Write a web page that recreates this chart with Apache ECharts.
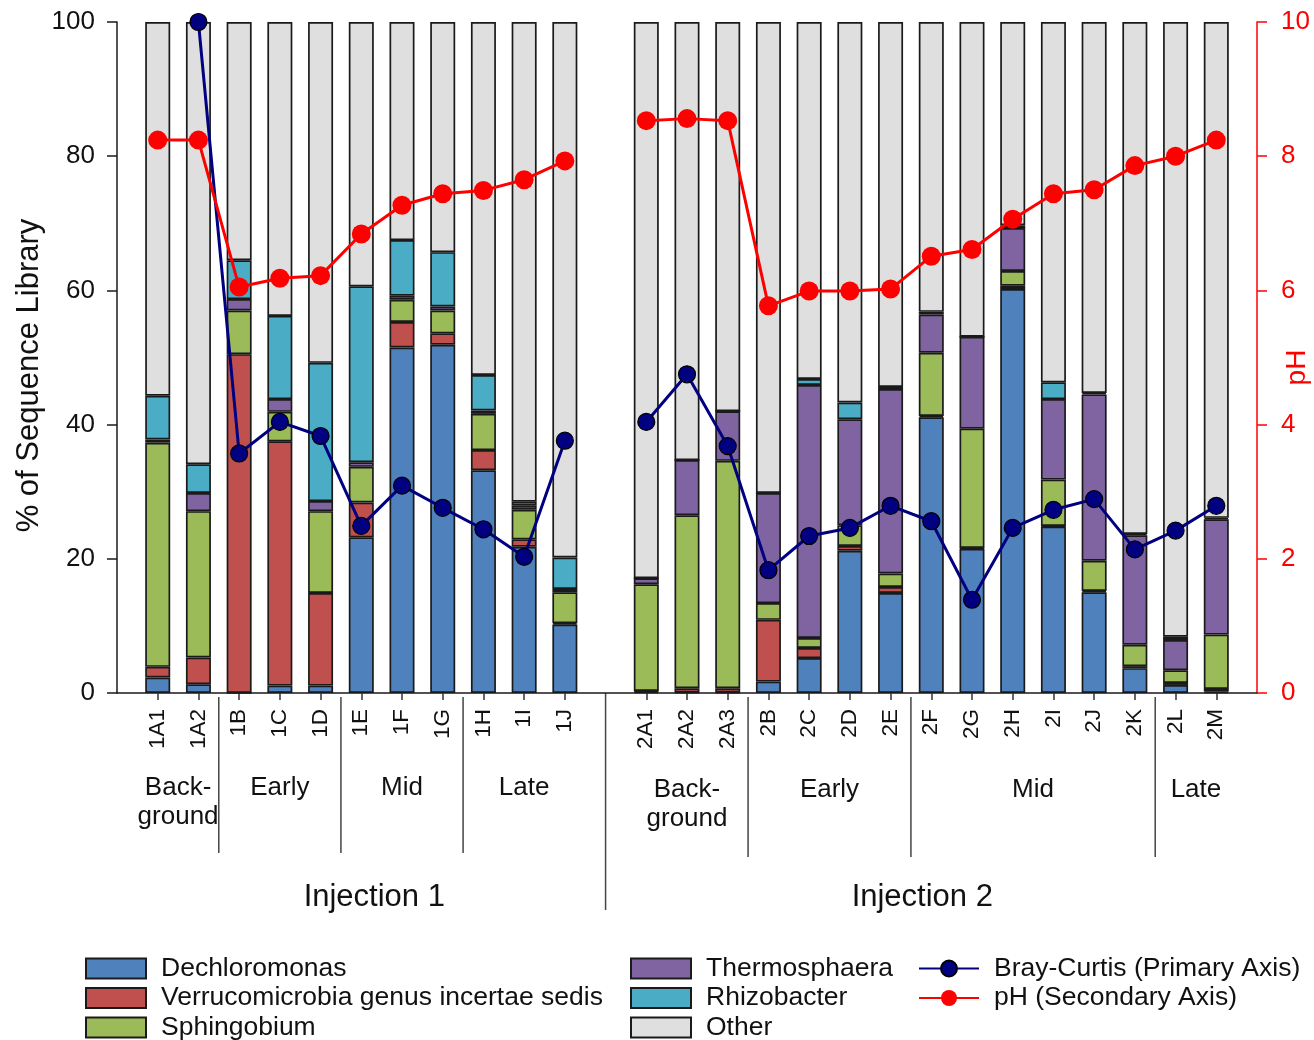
<!DOCTYPE html>
<html>
<head>
<meta charset="utf-8">
<title>Sequence library composition, Bray-Curtis and pH</title>
<script src="https://cdn.jsdelivr.net/npm/echarts@6/dist/echarts.min.js"></script>
<style>
  html, body { margin: 0; padding: 0; background: #ffffff; }
  #chart { width: 1314px; height: 1040px; }
</style>
</head>
<body>
<div id="chart"></div>
<script>
// ---- Samples (Injection 1, then Injection 2) ----
const samplesInj1 = ['1A1', '1A2', '1B', '1C', '1D', '1E', '1F', '1G', '1H', '1I', '1J'];
const samplesInj2 = ['2A1', '2A2', '2A3', '2B', '2C', '2D', '2E', '2F', '2G', '2H', '2I', '2J', '2K', '2L', '2M'];

// ---- % of sequence library per genus (order matches samplesInj1 + samplesInj2) ----
const dechloromonas  = [2.3, 1.3, 0.0, 1.1, 1.1, 23.2, 51.5, 51.9, 33.2, 21.8, 10.2,
                        0.2, 0.1, 0.1, 1.7, 5.2, 21.2, 14.9, 41.1, 21.5, 60.2, 24.8, 15.0, 3.7, 1.2, 0.2];
const verrucomicrobia = [1.6, 4.0, 50.5, 36.4, 13.8, 5.2, 3.8, 1.7, 3.0, 1.1, 0.2,
                        0.1, 0.6, 0.6, 9.2, 1.5, 0.7, 0.9, 0.2, 0.1, 0.5, 0.1, 0.2, 0.3, 0.3, 0.4];
const sphingobium    = [33.4, 21.8, 6.5, 4.4, 12.2, 5.3, 3.3, 3.4, 5.4, 4.4, 4.6,
                        15.9, 25.8, 33.9, 2.5, 1.5, 3.1, 2.0, 9.4, 17.8, 2.2, 6.9, 4.5, 3.2, 1.9, 8.1];
const thermosphaera  = [0.5, 2.7, 1.7, 1.9, 1.5, 0.7, 0.6, 0.6, 0.5, 0.6, 0.5,
                        0.9, 8.2, 7.4, 16.4, 37.7, 15.8, 27.5, 5.7, 13.7, 6.4, 12.0, 24.8, 16.3, 4.5, 17.2];
const rhizobacter    = [6.5, 4.3, 5.8, 12.4, 20.6, 26.2, 8.3, 8.1, 5.3, 0.6, 4.7,
                        0.0, 0.0, 0.0, 0.0, 0.9, 2.5, 0.3, 0.4, 0.0, 0.4, 2.5, 0.2, 0.2, 0.5, 0.2];
const other          = [55.7, 65.9, 35.5, 43.8, 50.8, 39.4, 32.5, 34.3, 52.6, 71.5, 79.8,
                        82.9, 65.3, 58.0, 70.2, 53.2, 56.7, 54.4, 43.2, 46.9, 30.3, 53.7, 55.3, 76.3, 91.6, 73.9];

// ---- Bray-Curtis dissimilarity (primary axis) and pH (secondary axis) ----
const brayCurtis = [null, 100, 35.7, 40.4, 38.3, 24.9, 30.9, 27.6, 24.4, 20.3, 37.6,
                    40.4, 47.5, 36.8, 18.3, 23.4, 24.6, 27.9, 25.6, 13.9, 24.6, 27.3, 28.9, 21.4, 24.2, 27.9];
const phValues   = [8.24, 8.24, 6.05, 6.18, 6.22, 6.84, 7.27, 7.44, 7.49, 7.65, 7.93,
                    8.53, 8.56, 8.53, 5.77, 5.99, 5.99, 6.02, 6.51, 6.61, 7.06, 7.44, 7.50, 7.86, 8.00, 8.24];

// ---- Axis ticks ----
const pctTicks = { min: 0, max: 100, step: 20 };
const phTicks  = { min: 0, max: 10, step: 2 };

// ---- Sampling phases (first and last sample of each) ----
const phasesInj1 = [
  { label: 'Back-\nground', first: '1A1', last: '1A2' },
  { label: 'Early', first: '1B', last: '1D' },
  { label: 'Mid',   first: '1E', last: '1G' },
  { label: 'Late',  first: '1H', last: '1J' }
];
const phasesInj2 = [
  { label: 'Back-\nground', first: '2A1', last: '2A3' },
  { label: 'Early', first: '2B', last: '2E' },
  { label: 'Mid',   first: '2F', last: '2K' },
  { label: 'Late',  first: '2L', last: '2M' }
];

// ---- Build the padded category axis: blank slot at each end and between injections ----
const axisCats = [' '].concat(samplesInj1, ['  '], samplesInj2, ['   ']);
const n1 = samplesInj1.length;
function pad(arr) {
  return [null].concat(arr.slice(0, n1), [null], arr.slice(n1), [null]);
}
function idxOf(name) { return axisCats.indexOf(name); }

const FONT = '"Liberation Sans", Arial, sans-serif';
const INK = '#111111';

const genera = [
  { name: 'Dechloromonas', data: dechloromonas, color: '#4F81BD' },
  { name: 'Verrucomicrobia genus incertae sedis', data: verrucomicrobia, color: '#C0504D' },
  { name: 'Sphingobium', data: sphingobium, color: '#9BBB59' },
  { name: 'Thermosphaera', data: thermosphaera, color: '#8064A2' },
  { name: 'Rhizobacter', data: rhizobacter, color: '#4BACC6' },
  { name: 'Other', data: other, color: '#DFDFDF' }
];

const barSeries = genera.map(g => ({
  name: g.name,
  type: 'bar',
  stack: 'library',
  barWidth: 25,
  data: pad(g.data),
  silent: true,
  itemStyle: { color: g.color, borderColor: '#1a1a1a', borderWidth: 1.7 },
  emphasis: { disabled: true },
  z: 2
}));

const lineNames = ['Bray-Curtis (Primary Axis)', 'pH (Secondary Axis)'];

// Legend: three columns, one legend component per entry so each row sits on a fixed line
const legendCols = [
  { left: 85, items: genera.slice(0, 3).map(g => ({ name: g.name, icon: 'rect' })) },
  { left: 630, items: genera.slice(3).map(g => ({ name: g.name, icon: 'rect' })) },
  { left: 918, items: lineNames.map(n => ({ name: n })) }
];
const legendRowCenters = [967, 996.5, 1026];
const legends = [];
legendCols.forEach(col => {
  col.items.forEach((item, r) => {
    legends.push({
      orient: 'horizontal',
      left: col.left,
      top: legendRowCenters[r] - 12,
      padding: 0,
      itemWidth: 60,
      itemHeight: 20,
      selectedMode: false,
      data: [item],
      textStyle: { fontSize: 26.5, color: INK, fontFamily: FONT, padding: [0, 0, 0, 10] }
    });
  });
});

const chart = echarts.init(document.getElementById('chart'), null, { renderer: 'canvas' });

chart.setOption({
  backgroundColor: '#ffffff',
  animation: false,
  textStyle: { fontFamily: FONT },
  grid: { left: 117, right: 57, top: 22, bottom: 347, containLabel: false, outerBoundsMode: 'none' },
  legend: legends,
  xAxis: {
    type: 'category',
    data: axisCats,
    boundaryGap: false,
    axisLine: { show: true, lineStyle: { color: '#1a1a1a', width: 1.5 } },
    axisTick: {
      show: true,
      interval: (i) => axisCats[i].trim() !== '',
      length: 7,
      lineStyle: { color: '#333333', width: 1.5 }
    },
    axisLabel: { interval: 0, rotate: 90, fontSize: 22.5, color: INK, margin: 16, fontFamily: FONT },
    splitLine: { show: false }
  },
  yAxis: [
    {
      type: 'value',
      position: 'left',
      min: pctTicks.min, max: pctTicks.max, interval: pctTicks.step,
      axisLine: { show: true, lineStyle: { color: '#1a1a1a', width: 1.5 } },
      axisTick: { show: true, length: 10, lineStyle: { color: '#1a1a1a', width: 1.5 } },
      axisLabel: { fontSize: 26, color: INK, margin: 22, fontFamily: FONT },
      splitLine: { show: false },
      name: '% of Sequence Library',
      nameLocation: 'middle',
      nameMoveOverlap: false,
      nameGap: 72,
      nameTextStyle: { fontSize: 31, color: INK, fontFamily: FONT, padding: [0, 36, 0, 0] }
    },
    {
      type: 'value',
      position: 'right',
      min: phTicks.min, max: phTicks.max, interval: phTicks.step,
      axisLine: { show: true, lineStyle: { color: '#ff0000', width: 1.5 } },
      axisTick: { show: true, length: 10, lineStyle: { color: '#ff0000', width: 1.5 } },
      axisLabel: { fontSize: 26, color: '#ff0000', margin: 24, fontFamily: FONT },
      splitLine: { show: false },
      name: 'pH',
      nameLocation: 'middle',
      nameMoveOverlap: false,
      nameGap: 26,
      nameTextStyle: { fontSize: 28, color: '#ff0000', fontFamily: FONT, padding: [0, 20, 0, 0] }
    }
  ],
  series: barSeries.concat([
    {
      name: lineNames[0],
      type: 'line',
      yAxisIndex: 0,
      data: pad(brayCurtis),
      connectNulls: false,
      symbol: 'circle',
      symbolSize: 17,
      silent: true,
      lineStyle: { color: '#000080', width: 3 },
      itemStyle: { color: '#000080', borderColor: '#000000', borderWidth: 1.2 },
      emphasis: { disabled: true },
      z: 5
    },
    {
      name: lineNames[1],
      type: 'line',
      yAxisIndex: 1,
      data: pad(phValues),
      connectNulls: false,
      symbol: 'circle',
      symbolSize: 19,
      silent: true,
      lineStyle: { color: '#ff0000', width: 3 },
      itemStyle: { color: '#ff0000' },
      emphasis: { disabled: true },
      z: 6
    }
  ])
});

// ---- Phase labels, separators and injection titles under the axis ----
function xAt(i) { return chart.convertToPixel({ xAxisIndex: 0 }, i); }
const y0 = chart.convertToPixel({ yAxisIndex: 0 }, 0);
const graphics = [];

function addPhases(phases, labelTop, sepBottom) {
  phases.forEach((p, k) => {
    const a = idxOf(p.first), b = idxOf(p.last);
    graphics.push({
      type: 'text',
      silent: true,
      style: {
        text: p.label,
        x: (xAt(a) + xAt(b)) / 2,
        y: labelTop,
        align: 'center',
        verticalAlign: 'top',
        lineHeight: 29,
        fontSize: 26,
        fontFamily: FONT,
        fill: INK
      }
    });
    if (k > 0) {
      const xs = (xAt(a - 1) + xAt(a)) / 2;
      graphics.push({
        type: 'line',
        silent: true,
        shape: { x1: xs, y1: y0 + 4, x2: xs, y2: sepBottom },
        style: { stroke: '#444444', lineWidth: 1.5 }
      });
    }
  });
}
addPhases(phasesInj1, y0 + 80, y0 + 160);
addPhases(phasesInj2, y0 + 82, y0 + 164);

// divider between the two injections (the blank slot)
const xDiv = xAt(idxOf('  '));
graphics.push({
  type: 'line',
  silent: true,
  shape: { x1: xDiv, y1: y0, x2: xDiv, y2: y0 + 217 },
  style: { stroke: '#444444', lineWidth: 1.5 }
});

// injection titles, nudged toward the divider
function addTitle(text, first, last, nudge) {
  graphics.push({
    type: 'text',
    silent: true,
    style: {
      text,
      x: (xAt(idxOf(first)) + xAt(idxOf(last))) / 2 + nudge,
      y: y0 + 204,
      align: 'center',
      verticalAlign: 'middle',
      fontSize: 31,
      fontFamily: FONT,
      fill: INK
    }
  });
}
addTitle('Injection 1', samplesInj1[0], samplesInj1[n1 - 1], 13);
addTitle('Injection 2', samplesInj2[0], samplesInj2[samplesInj2.length - 1], -9);

chart.setOption({ graphic: graphics });
</script>
</body>
</html>
